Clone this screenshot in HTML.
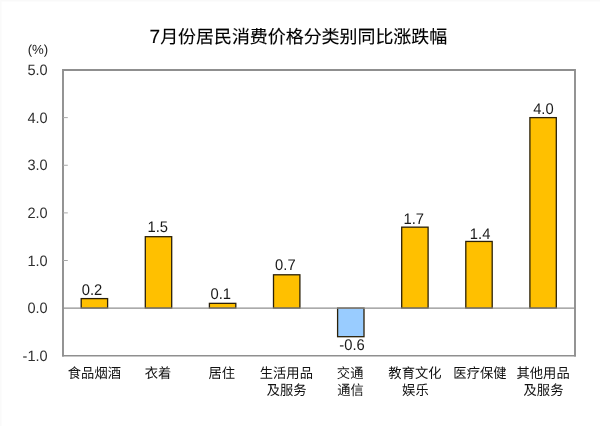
<!DOCTYPE html>
<html><head><meta charset="utf-8"><title>7月份居民消费价格分类别同比涨跌幅</title>
<style>
html,body{margin:0;padding:0;background:#fff;}
svg{display:block}
text{text-rendering:geometricPrecision;will-change:transform;}
.num{font-family:"Liberation Sans",sans-serif;font-size:15.4px;fill:#1a1a1a;}
.ax{font-family:"Liberation Sans",sans-serif;font-size:15px;fill:#2e2e2e;}
.pct{font-family:"Liberation Sans",sans-serif;font-size:13.2px;fill:#222;}
.t7{font-family:"Liberation Sans",sans-serif;font-size:19px;fill:#000;stroke:#000;stroke-width:0.15px;}
.tt{font-family:"Liberation Sans","Noto Sans CJK SC",sans-serif;font-size:17.95px;fill:#000;stroke:#000;stroke-width:0.12px;}
.cat{font-family:"Liberation Sans","Noto Sans CJK SC",sans-serif;font-size:13.9px;fill:#111;letter-spacing:0.08px;}
</style></head><body>
<svg role="img" aria-label="7月份居民消费价格分类别同比涨跌幅" width="600" height="426" viewBox="0 0 600 426">
<rect x="0" y="0" width="600" height="426" fill="#ffffff"/>
<rect x="0" y="0" width="600" height="1.5" fill="#f9f9f9"/>
<rect x="0" y="0" width="1.5" height="426" fill="#fafafa"/>
<path d="M63.0 356.5V70.0H575.0V356.5" fill="none" stroke="#8f8f8f" stroke-width="1.9" stroke-linejoin="miter"/>
<line x1="62.05" y1="355.75" x2="575.95" y2="355.75" stroke="#8f8f8f" stroke-width="1.5"/>
<line x1="63.0" y1="260.50" x2="67.8" y2="260.50" stroke="#a8a8a8" stroke-width="1"/>
<line x1="63.0" y1="212.88" x2="67.8" y2="212.88" stroke="#a8a8a8" stroke-width="1"/>
<line x1="63.0" y1="165.25" x2="67.8" y2="165.25" stroke="#a8a8a8" stroke-width="1"/>
<line x1="63.0" y1="117.62" x2="67.8" y2="117.62" stroke="#a8a8a8" stroke-width="1"/>
<rect x="81.20" y="298.60" width="26.4" height="9.53" fill="#FFC000" stroke="#2b2008" stroke-width="1.3"/>
<rect x="145.30" y="236.69" width="26.4" height="71.44" fill="#FFC000" stroke="#2b2008" stroke-width="1.3"/>
<rect x="209.40" y="303.36" width="26.4" height="4.76" fill="#FFC000" stroke="#2b2008" stroke-width="1.3"/>
<rect x="273.50" y="274.79" width="26.4" height="33.34" fill="#FFC000" stroke="#2b2008" stroke-width="1.3"/>
<rect x="337.60" y="308.12" width="26.4" height="28.57" fill="#99CCFF" stroke="#2b2008" stroke-width="1.3"/>
<rect x="401.70" y="227.16" width="26.4" height="80.96" fill="#FFC000" stroke="#2b2008" stroke-width="1.3"/>
<rect x="465.80" y="241.45" width="26.4" height="66.67" fill="#FFC000" stroke="#2b2008" stroke-width="1.3"/>
<rect x="529.90" y="117.62" width="26.4" height="190.50" fill="#FFC000" stroke="#2b2008" stroke-width="1.3"/>
<line x1="63.0" y1="308.12" x2="575.0" y2="308.12" stroke="#8f8f8f" stroke-width="1.4"/>
<text transform="translate(92.00 295.00) scale(0.96 1)" text-anchor="middle" class="num">0.2</text>
<text transform="translate(157.80 232.30) scale(0.96 1)" text-anchor="middle" class="num">1.5</text>
<text transform="translate(220.80 299.30) scale(0.96 1)" text-anchor="middle" class="num">0.1</text>
<text transform="translate(285.40 270.30) scale(0.96 1)" text-anchor="middle" class="num">0.7</text>
<text transform="translate(352.00 350.30) scale(0.96 1)" text-anchor="middle" class="num">-0.6</text>
<text transform="translate(413.75 223.50) scale(0.96 1)" text-anchor="middle" class="num">1.7</text>
<text transform="translate(480.15 238.80) scale(0.96 1)" text-anchor="middle" class="num">1.4</text>
<text transform="translate(543.40 113.80) scale(0.96 1)" text-anchor="middle" class="num">4.0</text>
<text transform="translate(47.7 360.75) scale(0.97 1)" text-anchor="end" class="ax">-1.0</text>
<text transform="translate(47.7 313.12) scale(0.97 1)" text-anchor="end" class="ax">0.0</text>
<text transform="translate(47.7 265.50) scale(0.97 1)" text-anchor="end" class="ax">1.0</text>
<text transform="translate(47.7 217.88) scale(0.97 1)" text-anchor="end" class="ax">2.0</text>
<text transform="translate(47.7 170.25) scale(0.97 1)" text-anchor="end" class="ax">3.0</text>
<text transform="translate(47.7 122.62) scale(0.97 1)" text-anchor="end" class="ax">4.0</text>
<text transform="translate(47.7 75.00) scale(0.97 1)" text-anchor="end" class="ax">5.0</text>
<text x="37.9" y="54.3" text-anchor="middle" class="pct">(%)</text>
<text x="149.6" y="43.2" class="t7">7</text>
<g aria-label="月份居民消费价格分类别同比涨跌幅"><text x="160.20" y="43.20" class="tt">月份居民消费价格分类别同比涨跌幅</text></g>
<g aria-label="食品烟酒"><text transform="translate(67.74 377.50) scale(0.9547 1)" class="cat">食品烟酒</text></g>
<g aria-label="衣着"><text transform="translate(144.69 377.50) scale(0.9547 1)" class="cat">衣着</text></g>
<g aria-label="居住"><text transform="translate(208.49 377.50) scale(0.9547 1)" class="cat">居住</text></g>
<g aria-label="生活用品"><text transform="translate(259.64 377.50) scale(0.9547 1)" class="cat">生活用品</text></g>
<g aria-label="及服务"><text transform="translate(266.66 395.30) scale(0.9547 1)" class="cat">及服务</text></g>
<g aria-label="交通"><text transform="translate(336.79 377.50) scale(0.9547 1)" class="cat">交通</text></g>
<g aria-label="通信"><text transform="translate(337.14 395.30) scale(0.9547 1)" class="cat">通信</text></g>
<g aria-label="教育文化"><text transform="translate(388.34 377.50) scale(0.9547 1)" class="cat">教育文化</text></g>
<g aria-label="娱乐"><text transform="translate(402.04 395.30) scale(0.9547 1)" class="cat">娱乐</text></g>
<g aria-label="医疗保健"><text transform="translate(453.34 377.50) scale(0.9547 1)" class="cat">医疗保健</text></g>
<g aria-label="其他用品"><text transform="translate(516.44 377.50) scale(0.9547 1)" class="cat">其他用品</text></g>
<g aria-label="及服务"><text transform="translate(523.46 395.30) scale(0.9547 1)" class="cat">及服务</text></g>
</svg>
</body></html>
